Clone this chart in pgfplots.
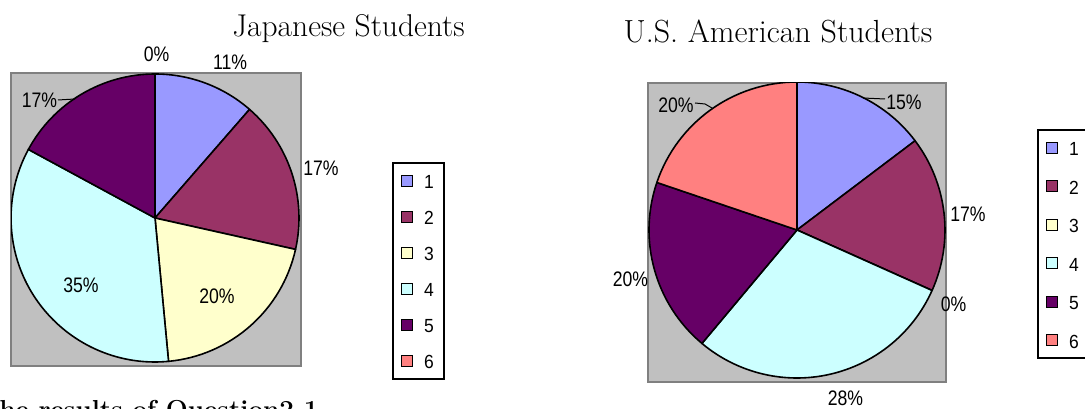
\documentclass[border=0pt]{standalone}
\usepackage{pgfplots}
\pgfplotsset{compat=1.18}
\usepackage{fontspec}
\newfontfamily\lab[FakeStretch=0.84]{Liberation Sans}
\newfontfamily\leg[FakeStretch=0.92]{Liberation Sans}
\definecolor{c1}{HTML}{9999FF}
\definecolor{c2}{HTML}{993366}
\definecolor{c3}{HTML}{FFFFCC}
\definecolor{c4}{HTML}{CCFFFF}
\definecolor{c5}{HTML}{660066}
\definecolor{c6}{HTML}{FF8080}
\definecolor{plotbg}{HTML}{C0C0C0}
\definecolor{plotedge}{HTML}{808080}
\newcommand\labfont{\lab\fontsize{21}{21}\selectfont}
\newcommand\legfont{\leg\fontsize{19}{19}\selectfont}
\pgfplotsset{
  pieaxis/.style={
    scale only axis, ticks=none,
    axis background/.style={fill=plotbg},
    axis line style={draw=plotedge, line width=2pt},
    legend image code/.code={\draw[##1,line width=1.2pt] (0pt,-5.5pt) rectangle (11pt,5.5pt);},
    legend cell align=left,
    legend style={anchor=north west, draw=black, line width=1.6pt, font=\legfont,
      row sep=16pt, column sep=9pt, inner sep=8pt,
      nodes={inner xsep=2pt, inner ysep=2pt, text height=16pt, text depth=0pt}},
  }
}
\newcommand\pie[2]{%
  \pgfplotsextra{%
    \foreach \v/\c [remember=\pend as \pstart (initially 90)] in {#2}{%
      \pgfmathsetmacro\pend{\pstart-3.6*\v}%
      \filldraw[fill=\c,draw=black,line width=1.6pt,line join=round]
        (axis cs:0,0) -- (axis cs:{cos(\pstart)},{sin(\pstart)})
        arc[start angle=\pstart,end angle=\pend,radius=#1] -- cycle;
    }%
  }%
}
\begin{document}
\begin{tikzpicture}[x=1pt,y=1pt]
\useasboundingbox (0,0) rectangle (1085,409);
% Japanese
\begin{axis}[pieaxis, at={(11pt,43pt)}, anchor=south west, width=290pt, height=293pt,
  xmin=-1, xmax=1.0139, ymin=-1.0278, ymax=1.0069,
  legend style={at={(1.3138,0.6962)}}]
\pie{144pt}{11.4/c1,17.1/c2,20.0/c3,34.4/c4,17.1/c5,0/c6}
\addlegendimage{fill=c1,draw=black}
\addlegendimage{fill=c2,draw=black}
\addlegendimage{fill=c3,draw=black}
\addlegendimage{fill=c4,draw=black}
\addlegendimage{fill=c5,draw=black}
\addlegendimage{fill=c6,draw=black}
\legend{1,2,3,4,5,6}
\end{axis}
% US
\begin{axis}[pieaxis, at={(648pt,27pt)}, anchor=south west, width=298pt, height=299pt,
  xmin=-1.0068, xmax=1.0068, ymin=-1.027, ymax=0.9932,
  legend style={at={(1.3054,0.8462)}, row sep=18.5pt}]
\pie{148pt}{14.7/c1,17.0/c2,0/c3,29.4/c4,19.1/c5,19.8/c6}
\addlegendimage{fill=c1,draw=black}
\addlegendimage{fill=c2,draw=black}
\addlegendimage{fill=c3,draw=black}
\addlegendimage{fill=c4,draw=black}
\addlegendimage{fill=c5,draw=black}
\addlegendimage{fill=c6,draw=black}
\legend{1,2,3,4,5,6}
\end{axis}
% titles
\node[font=\fontsize{31.5}{36}\selectfont, anchor=base] at (348.5,372) {Japanese Students};
\node[font=\fontsize{32}{36}\selectfont, anchor=base] at (778,366) {U.S. American Students};
\node[font=\bfseries\fontsize{26}{30}\selectfont, anchor=base east] at (322,-10) {The results of Question2-1};
% Japanese labels
\node[font=\labfont] at (156.5,354.5) {0\%};
\node[font=\labfont] at (230,347) {11\%};
\node[font=\labfont] at (321,241) {17\%};
\node[font=\labfont] at (217,112.5) {20\%};
\node[font=\labfont] at (81,124) {35\%};
\node[font=\labfont] at (39.5,309) {17\%};
\draw[line width=1pt] (58,309) -- (75,310);
% US labels
\node[font=\labfont] at (904,306.5) {15\%};
\draw[line width=1pt] (863,311) -- (885,310);
\node[font=\labfont] at (968,194.5) {17\%};
\node[font=\labfont] at (953.5,104.5) {0\%};
\node[font=\labfont] at (845.5,11) {28\%};
\node[font=\labfont] at (630.5,129.5) {20\%};
\node[font=\labfont] at (676,303.5) {20\%};
\draw[line width=1pt] (695,306) -- (705,305) -- (712,301);
\end{tikzpicture}
\end{document}
